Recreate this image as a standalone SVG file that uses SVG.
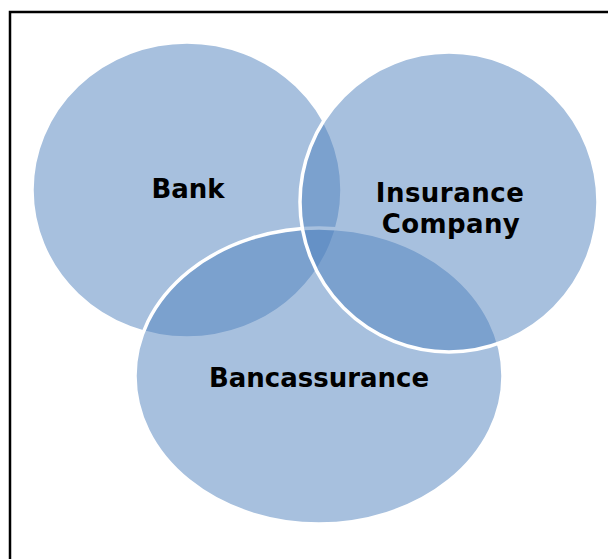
<svg xmlns="http://www.w3.org/2000/svg" width="608" height="559" viewBox="0 0 608 559">
  <style>
    .set { fill: #4F81BD; fill-opacity: 0.5; stroke: #FFFFFF; stroke-width: 3.5; }
    .label { font-family: "DejaVu Sans", Verdana, sans-serif; font-weight: bold; font-size: 26px; fill: #000000; text-anchor: middle; }
  </style>
  <rect x="0" y="0" width="608" height="559" fill="#FFFFFF"/>
  <!-- frame, running off the right and bottom edges -->
  <rect x="10" y="12" width="700" height="700" fill="none" stroke="#000000" stroke-width="2.5"/>
  <g id="connectors"/>
  <g id="bank">
    <ellipse class="set" cx="187" cy="190" rx="155" ry="148"/>
  </g>
  <g id="bancassurance">
    <ellipse class="set" cx="319" cy="376" rx="184" ry="148"/>
  </g>
  <g id="insurance-company">
    <ellipse class="set" cx="449" cy="202" rx="149" ry="150"/>
  </g>
  <g id="labels">
    <text class="label" x="188" y="198">Bank</text>
    <text class="label" x="450" y="202" letter-spacing="0.5">Insurance</text>
    <text class="label" x="451" y="233" letter-spacing="0.4">Company</text>
    <text class="label" x="319" y="387">Bancassurance</text>
  </g>
</svg>
